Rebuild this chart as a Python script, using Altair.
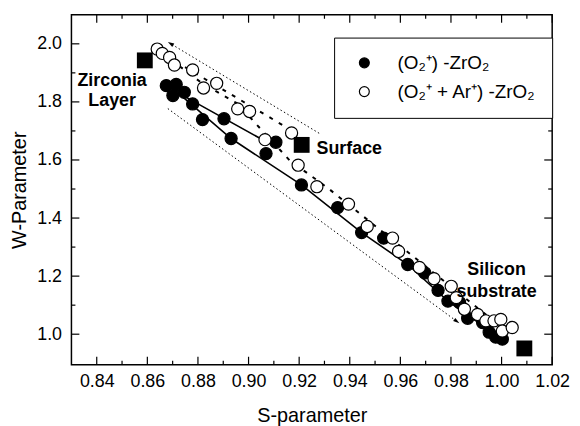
import altair as alt
import pandas as pd

# ---------------- data ----------------
lab1 = "(O₂⁺) -ZrO₂"
lab2 = "(O₂⁺ + Ar⁺) -ZrO₂"

s1_x = [0.8675, 0.8714, 0.8701, 0.8746, 0.8779, 0.8818, 0.8903, 0.8931, 0.9108, 0.9069,
        0.9209, 0.9352, 0.9447, 0.9534, 0.9629, 0.9697, 0.9749, 0.9788, 0.9834, 0.9866,
        0.9925, 0.9951, 0.9977, 1.0003]
s1_y = [1.856, 1.860, 1.822, 1.833, 1.793, 1.739, 1.742, 1.674, 1.661, 1.622,
        1.514, 1.436, 1.350, 1.331, 1.240, 1.211, 1.151, 1.114, 1.109, 1.055,
        1.040, 1.007, 0.990, 0.983]

s2_x = [0.8639, 0.8659, 0.8688, 0.8707, 0.8779, 0.8822, 0.8874, 0.8957, 0.9004, 0.9065,
        0.9170, 0.9196, 0.9270, 0.9395, 0.9469, 0.9569, 0.9593, 0.9675, 0.9733, 0.9801,
        0.9821, 0.9853, 0.9905, 0.9938, 0.9970, 0.9997, 1.0003, 1.0042]
s2_y = [1.982, 1.967, 1.953, 1.927, 1.910, 1.848, 1.864, 1.776, 1.767, 1.670,
        1.693, 1.582, 1.508, 1.448, 1.371, 1.331, 1.285, 1.230, 1.191, 1.165,
        1.126, 1.086, 1.068, 1.046, 1.046, 1.051, 1.011, 1.023]

# reference states (black squares)
ref_x = [0.859, 0.921, 1.009]
ref_y = [1.943, 1.652, 0.951]

# guide lines
solid_x = [0.9059, 0.8720, 0.8931, 0.9209, 0.9447, 0.9629, 0.9788, 0.9990]
solid_y = [1.668, 1.832, 1.674, 1.514, 1.350, 1.240, 1.114, 0.990]

dashed_x = [0.9170, 0.8673, 0.8818, 0.8955, 0.9162, 0.9314, 0.9970]
dashed_y = [1.702, 1.959, 1.863, 1.795, 1.599, 1.503, 1.045]

arrow1_x = [0.9279, 0.8693]
arrow1_y = [1.692, 2.000]
arrow2_x = [0.8681, 0.9822]
arrow2_y = [1.777, 1.045]

x_major = [0.84, 0.86, 0.88, 0.90, 0.92, 0.94, 0.96, 0.98, 1.00, 1.02]
x_minor = [0.85, 0.87, 0.89, 0.91, 0.93, 0.95, 0.97, 0.99, 1.01]
y_major = [1.0, 1.2, 1.4, 1.6, 1.8, 2.0]
y_minor = [1.1, 1.3, 1.5, 1.7, 1.9]

# ---------------- chart ----------------
W, H = 485, 353
FONT = "Liberation Sans"

xs = alt.Scale(domain=[0.83, 1.02], nice=False, zero=False)
ys = alt.Scale(domain=[0.895, 2.10], nice=False, zero=False)

x_axis = alt.Axis(values=x_major, format=".2f", title="S-parameter", labelPadding=8, titlePadding=15)
y_axis = alt.Axis(values=y_major, format=".1f", title="W-Parameter", labelPadding=10, titlePadding=7)


def X(field="S"):
    return alt.X(f"{field}:Q", scale=xs, axis=x_axis)


def Y(field="W"):
    return alt.Y(f"{field}:Q", scale=ys, axis=y_axis)


layers = []

pts = pd.DataFrame({
    "S": s1_x + s2_x,
    "W": s1_y + s2_y,
    "series": [lab1] * len(s1_x) + [lab2] * len(s2_x),
})


# tick marks (inward)
def xticks(vals, ln):
    df = pd.DataFrame({"v": vals})
    b = alt.Chart(df).mark_rule(color="black", strokeWidth=1.2).encode(
        x=X("v"), y=alt.value(H), y2=alt.value(H - ln))
    t = alt.Chart(df).mark_rule(color="black", strokeWidth=1.2).encode(
        x=X("v"), y=alt.value(0), y2=alt.value(ln))
    return [b, t]


def yticks(vals, ln):
    df = pd.DataFrame({"v": vals})
    l = alt.Chart(df).mark_rule(color="black", strokeWidth=1.2).encode(
        y=Y("v"), x=alt.value(0), x2=alt.value(ln))
    r = alt.Chart(df).mark_rule(color="black", strokeWidth=1.2).encode(
        y=Y("v"), x=alt.value(W), x2=alt.value(W - ln))
    return [l, r]


layers += xticks(x_major, 8) + xticks(x_minor, 4) + yticks(y_major, 8) + yticks(y_minor, 4)

# dotted arrows
for ax, ay in [(arrow1_x, arrow1_y), (arrow2_x, arrow2_y)]:
    df = pd.DataFrame({"S": ax, "W": ay, "i": list(range(len(ax)))})
    layers.append(alt.Chart(df).mark_line(color="black", strokeWidth=1, strokeDash=[1.5, 2.5]).encode(
        x=X(), y=Y(), order=alt.Order("i:Q")))

# dashed line (open series)
df_d = pd.DataFrame({"S": dashed_x, "W": dashed_y, "i": list(range(len(dashed_x)))})
layers.append(alt.Chart(df_d).mark_line(color="black", strokeWidth=2, strokeDash=[4, 7]).encode(
    x=X(), y=Y(), order=alt.Order("i:Q")))

# solid line (filled series)
df_s = pd.DataFrame({"S": solid_x, "W": solid_y, "i": list(range(len(solid_x)))})
layers.append(alt.Chart(df_s).mark_line(color="black", strokeWidth=1.6).encode(
    x=X(), y=Y(), order=alt.Order("i:Q")))

points = alt.Chart(pts).mark_point(filled=True, size=150, stroke="black", strokeWidth=1.2,
                                   opacity=1).encode(
    x=X(), y=Y(),
    fill=alt.Fill("series:N", scale=alt.Scale(domain=[lab1, lab2], range=["black", "white"]),
                  legend=alt.Legend(title=None, orient="none", legendX=265, legendY=23,
                                    padding=16, strokeColor="black", fillColor="white",
                                    labelFont=FONT, labelFontSize=19, labelColor="black",
                                    symbolSize=100, symbolStrokeColor="black",
                                    symbolStrokeWidth=1.2, symbolType="circle",
                                    rowPadding=9, labelOffset=24, symbolOffset=5,
                                    labelLimit=400)),
)
layers.append(points)

# reference squares
df_q = pd.DataFrame({"S": ref_x, "W": ref_y})
layers.append(alt.Chart(df_q).mark_point(shape="square", filled=True, size=256, color="black",
                                         opacity=1).encode(x=X(), y=Y()))

# arrow heads
a1 = pd.DataFrame({"S": arrow1_x[-1:], "W": arrow1_y[-1:]})
a2 = pd.DataFrame({"S": arrow2_x[-1:], "W": arrow2_y[-1:]})
head = "M0,-1L0.55,0.8L-0.55,0.8Z"
layers.append(alt.Chart(a1).mark_point(shape=head, filled=True, size=50, color="black", opacity=1,
                                       angle=301).encode(x=X(), y=Y()))
layers.append(alt.Chart(a2).mark_point(shape=head, filled=True, size=50, color="black", opacity=1,
                                       angle=126).encode(x=X(), y=Y()))

# annotations attached to the reference squares
txt = dict(font=FONT, fontSize=18, fontWeight="bold", color="black", baseline="alphabetic")
layers.append(alt.Chart(df_q.iloc[[0]]).mark_text(text=["Zirconia", "Layer"], align="center",
                                                  dx=-33, dy=26, lineHeight=20, **txt).encode(x=X(), y=Y()))
layers.append(alt.Chart(df_q.iloc[[1]]).mark_text(text="Surface", align="left",
                                                  dx=15, dy=9, **txt).encode(x=X(), y=Y()))
layers.append(alt.Chart(df_q.iloc[[2]]).mark_text(text=["Silicon", "substrate"], align="center",
                                                  dx=-28, dy=-74, lineHeight=22, **txt).encode(x=X(), y=Y()))

chart = alt.layer(*layers).properties(
    width=W, height=H,
    autosize=alt.AutoSizeParams(type="none"),
    padding={"left": 64, "top": 5, "right": 20, "bottom": 60},
).configure_view(stroke="black", strokeWidth=1.5).configure_axis(
    domain=False, ticks=False, tickSize=0, grid=False,
    labelFont=FONT, labelFontSize=18, labelColor="black", labelFlush=False, labelOverlap=False,
    titleFont=FONT, titleFontSize=20, titleFontWeight="normal", titleColor="black",
)

chart.save("out.html", embed_options={"renderer": "svg", "actions": False})
